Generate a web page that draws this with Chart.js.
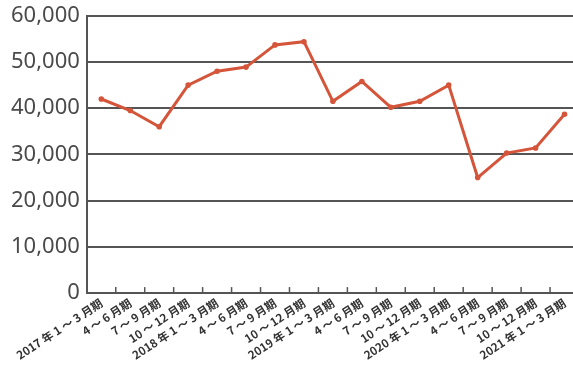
<!DOCTYPE html>
<html>
<head>
<meta charset="utf-8">
<script src="https://cdn.jsdelivr.net/npm/chart.js@4/dist/chart.umd.min.js"></script>
<style>
html,body{margin:0;padding:0;background:#fff;overflow:hidden;width:573px;height:365px;}
#wrap{position:absolute;left:0;top:0;width:590px;height:365px;}
</style>
</head>
<body>
<div id="wrap"><canvas id="c" width="590" height="365"></canvas></div>
<script>
const categories = [
  "2017 年 1 ～ 3 月期","4 ～ 6 月期","7 ～ 9 月期","10 ～ 12 月期",
  "2018 年 1 ～ 3 月期","4 ～ 6 月期","7 ～ 9 月期","10 ～ 12 月期",
  "2019 年 1 ～ 3 月期","4 ～ 6 月期","7 ～ 9 月期","10 ～ 12 月期",
  "2020 年 1 ～ 3 月期","4 ～ 6 月期","7 ～ 9 月期","10 ～ 12 月期",
  "2021 年 1 ～ 3 月期"
];
const values = [42000,39500,36000,45000,48000,48900,53700,54400,41500,45800,40200,41500,45000,25000,30300,31400,38700];
const yTicks = [0,10000,20000,30000,40000,50000,60000];

const innerTicks = {
  id:'innerTicks',
  afterDraw(chart){
    const s = chart.scales.x, ctx = chart.ctx;
    const n = categories.length;
    const y = chart.scales.y.getPixelForValue(0);
    ctx.save();
    ctx.strokeStyle = '#555';
    ctx.lineWidth = 1.5;
    for(let i=1;i<=n;i++){
      const x = s.left + i*(s.width/n);
      ctx.beginPath(); ctx.moveTo(x,y); ctx.lineTo(x,y-6); ctx.stroke();
    }
    ctx.restore();
  }
};

new Chart(document.getElementById('c'),{
  type:'line',
  data:{labels:categories,datasets:[{
    data:values,
    borderColor:'#d4553a',
    backgroundColor:'#d4553a',
    borderWidth:3,
    pointRadius:2.8,
    pointBorderWidth:0,
    tension:0
  }]},
  options:{
    responsive:false,
    animation:false,
    layout:{padding:{top:0,right:11,left:4,bottom:0}},
    plugins:{legend:{display:false},tooltip:{enabled:false}},
    scales:{
      x:{
        offset:true,
        grid:{display:false,drawOnChartArea:false,drawTicks:false},
        border:{display:true,color:'#555',width:2},
        ticks:{
          autoSkip:false,
          minRotation:33,maxRotation:33,
          padding:3,
          color:'#333',
          font:{family:'"Noto Sans CJK JP"',size:11.5,weight:'bold'}
        }
      },
      y:{
        min:0,max:60000,
        afterBuildTicks(axis){axis.ticks = yTicks.map(v=>({value:v}));},
        grid:{color:'#555',lineWidth:2,drawTicks:false},
        border:{display:true,color:'#555',width:2},
        ticks:{
          padding:7,
          color:'#4a4a4a',
          font:{family:'"Noto Sans"',size:22,lineHeight:0.8},
          callback:v=>v.toLocaleString('en-US')
        }
      }
    }
  },
  plugins:[innerTicks]
});
</script>
</body>
</html>
